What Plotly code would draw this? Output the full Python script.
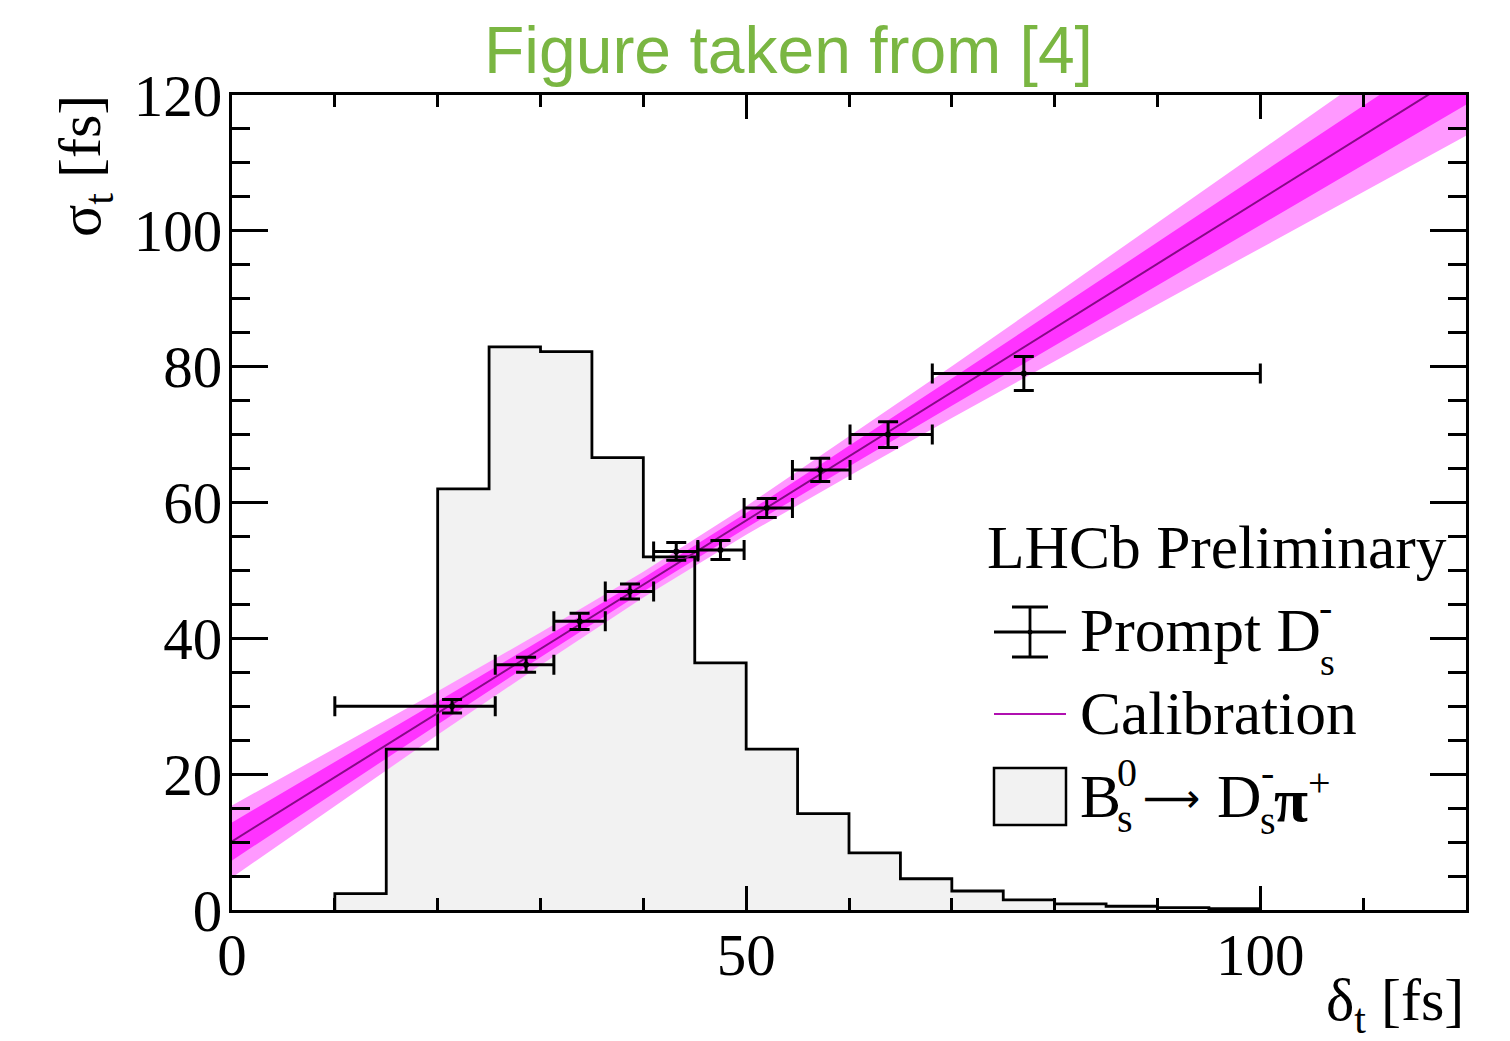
import plotly.graph_objects as go
import numpy as np

# ---------------- data ----------------
# B_s0 -> Ds pi histogram (bin edges in fs, bin contents in picture units)
hist_edges = [10, 15, 20, 25, 30, 35, 40, 45, 50, 55, 60, 65, 70, 75, 80, 85, 90, 95, 100]
hist_counts = [2.4, 23.7, 62.0, 82.9, 82.2, 66.6, 52.0, 36.4, 23.7, 14.2, 8.4, 4.6, 2.8, 1.5, 0.9, 0.55, 0.35, 0.2]

# Prompt Ds calibration points
pt_x = [21.4, 28.6, 33.8, 38.7, 43.2, 47.5, 52.0, 57.2, 63.8, 77.0]
pt_xlo = [10.0, 25.6, 31.3, 36.3, 41.0, 45.3, 49.8, 54.5, 60.1, 68.1]
pt_xhi = [25.6, 31.3, 36.3, 41.0, 45.3, 49.8, 54.5, 60.1, 68.1, 100.0]
pt_y = [30.0, 36.1, 42.5, 46.9, 52.8, 53.0, 59.2, 64.8, 70.0, 79.0]
pt_yerr = [1.0, 1.1, 1.2, 1.1, 1.3, 1.4, 1.4, 1.7, 1.9, 2.5]

# Calibration line end points
calib_x = [0, 120]
calib_y = [10.1, 123.5]

# Band half widths
band_x = [0, 10, 20, 30, 40, 50, 60, 70, 80, 90, 100, 110, 120]
band_inner = [2.8, 2.2, 1.7, 1.25, 1.0, 1.1, 1.5, 2.0, 2.6, 3.15, 3.75, 4.35, 4.95]
band_outer = [5.3, 4.2, 3.2, 2.4, 1.9, 2.1, 2.9, 3.8, 4.9, 6.0, 7.1, 8.3, 9.5]

# ---------------- layout helpers ----------------
W, H = 1510, 1041
L, R, T, B = 232, 44, 95, 131
PW, PH = W - L - R, H - T - B


def px(x):
    return (x - L) / PW


def py(y):
    return (H - B - y) / PH


SERIF = "Liberation Serif"
SANS = "Liberation Sans"

fig = go.Figure()

# histogram fill
hx = [hist_edges[0]] + hist_edges[:-1] + [hist_edges[-1], hist_edges[-1]]
hy = [0] + hist_counts + [hist_counts[-1], 0]
fig.add_trace(go.Scatter(x=hx, y=hy, mode="lines", line=dict(shape="hv", width=0, color="rgba(0,0,0,0)"),
                         fill="tozeroy", fillcolor="#f2f2f2", hoverinfo="skip"))

# bands
bx = np.array(band_x, dtype=float)
center = np.interp(bx, calib_x, calib_y)
for hw, col in [(band_outer, "#ff99ff"), (band_inner, "#ff33ff")]:
    hw = np.array(hw)
    xs = list(bx) + list(bx[::-1])
    ys = list(center + hw) + list((center - hw)[::-1])
    fig.add_trace(go.Scatter(x=xs, y=ys, mode="lines", fill="toself", fillcolor=col,
                             line=dict(width=0, color=col), hoverinfo="skip"))

# histogram outline
fig.add_trace(go.Scatter(x=hx, y=hy, mode="lines", line=dict(shape="hv", width=2.8, color="black"),
                         hoverinfo="skip"))

# calibration line
fig.add_trace(go.Scatter(x=calib_x, y=calib_y, mode="lines", line=dict(width=2, color="#850a85")))

# points
fig.add_trace(go.Scatter(
    x=pt_x, y=pt_y, mode="markers",
    marker=dict(size=6, color="black"),
    error_x=dict(type="data", symmetric=False,
                 array=[h - x for h, x in zip(pt_xhi, pt_x)],
                 arrayminus=[x - l for l, x in zip(pt_xlo, pt_x)],
                 color="black", thickness=3, width=10),
    error_y=dict(type="data", array=pt_yerr, color="black", thickness=3, width=10),
))

# ---------------- legend (drawn manually) ----------------
shapes = []
lw = 2.8


def seg(x0, y0, x1, y1, color="black", width=lw):
    shapes.append(dict(type="line", xref="paper", yref="paper",
                       x0=px(x0), y0=py(y0), x1=px(x1), y1=py(y1),
                       line=dict(color=color, width=width)))


seg(994, 632, 1066, 632)
seg(1030, 607, 1030, 657)
seg(1012, 607, 1048, 607)
seg(1012, 657, 1048, 657)
shapes.append(dict(type="circle", xref="paper", yref="paper",
                   x0=px(1027.5), x1=px(1032.5), y0=py(629.5), y1=py(634.5),
                   fillcolor="black", line=dict(width=0)))
seg(994, 714, 1066, 714, color="#b010b0", width=2)
shapes.append(dict(type="rect", xref="paper", yref="paper",
                   x0=px(994), x1=px(1066), y0=py(825), y1=py(768),
                   fillcolor="#f2f2f2", line=dict(color="black", width=2.5)))

ann = []


def txt(s, x, y, size=61.5, xa="left", ya="middle", font=SERIF, color="black", angle=0):
    ann.append(dict(text=s, x=px(x), y=py(y), xref="paper", yref="paper",
                    xanchor=xa, yanchor=ya, showarrow=False, textangle=angle,
                    font=dict(family=font, size=size, color=color)))


txt("LHCb Preliminary", 985, 547)
txt("Prompt D", 1078, 630)
txt("-", 1325, 607, size=40, xa="center")
txt("s", 1327, 662, size=38, xa="center")
txt("Calibration", 1078, 713)
txt("B", 1078, 796)
txt("0", 1127, 772, size=40, xa="center")
txt("s", 1125, 818, size=40, xa="center")
txt("⟶", 1171, 798, size=40, xa="center", font="DejaVu Sans")
txt("D", 1215, 796)
txt("-", 1267, 772, size=40, xa="center")
txt("s", 1268, 820, size=40, xa="center")
txt("<b>π</b>", 1272, 800, size=62)
txt("+", 1319, 782, size=40, xa="center")

# title
txt("Figure taken from [4]", 788, 50, size=66, xa="center", font=SANS, color="#7ab642")
# axis titles
txt("σ<sub>t</sub> [fs]", 84, 166, size=60, xa="center", angle=-90)
txt("δ<sub>t</sub> [fs]", 1466, 1004, size=60, xa="right")

fig.update_layout(
    width=W, height=H, autosize=False,
    margin=dict(l=L, r=R, t=T, b=B),
    paper_bgcolor="white", plot_bgcolor="white",
    showlegend=False,
    shapes=shapes, annotations=ann,
)
fig.update_xaxes(
    range=[0, 120], dtick=50, tick0=0, showgrid=False, zeroline=False,
    showline=True, linewidth=3, linecolor="black", mirror="ticks",
    ticks="inside", ticklen=24, tickwidth=2.5, tickcolor="black",
    minor=dict(dtick=10, ticks="inside", ticklen=12, tickwidth=2.5, tickcolor="black", showgrid=False),
    tickfont=dict(family=SERIF, size=59, color="black"), ticklabelstandoff=-9,
)
fig.update_yaxes(
    range=[0, 120], dtick=20, tick0=0, showgrid=False, zeroline=False,
    showline=True, linewidth=3, linecolor="black", mirror="ticks",
    ticks="inside", ticklen=36, tickwidth=2.5, tickcolor="black",
    minor=dict(dtick=5, ticks="inside", ticklen=18, tickwidth=2.5, tickcolor="black", showgrid=False),
    tickfont=dict(family=SERIF, size=59, color="black"), ticklabelstandoff=-5,
)

fig.write_html("out.html")
